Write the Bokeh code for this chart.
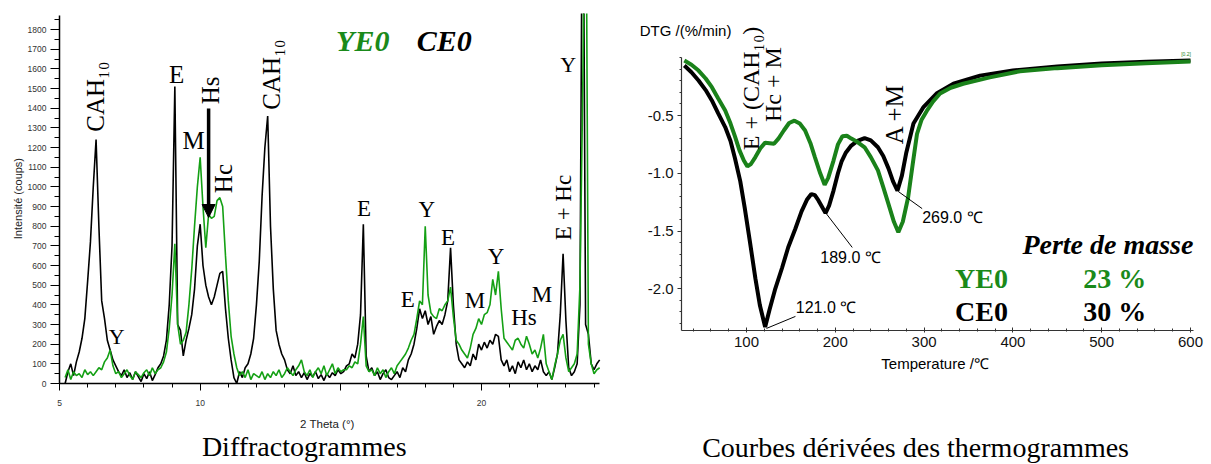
import math
from bokeh.plotting import figure
from bokeh.layouts import row
from bokeh.models import Range1d, FixedTicker, Label, Arrow, NormalHead, PrintfTickFormatter
from bokeh.embed import file_html
from bokeh.resources import INLINE

# ---------------- XRD data (2 Theta scan, step 0.1 deg from 5.2) ----------------
theta_start = 5.2
theta_step = 0.1
ce0_counts = [
    0, 60, 100, 40, 110, 160, 230, 330, 520, 720,          # 5.2 - 6.1
    1000, 1240, 800, 420, 330, 220, 170, 120, 90, 60,      # 6.2 - 7.1
    40, 70, 30, 55, 20, 60, 35, 10, 50, 25,                # 7.2 - 8.1
    60, 15, 45, 80, 100, 140, 220, 400, 700, 1510,         # 8.2 - 9.1
    300, 270, 140, 220, 280, 350, 480, 700, 810, 600,      # 9.2 - 10.1
    500, 440, 400, 440, 500, 560, 570, 380, 230, 120,      # 10.2 - 11.1
    30, 0, 60, 30, 80, 100, 150, 230, 400, 620,            # 11.2 - 12.1
    950, 1200, 1360, 800, 480, 270, 200, 150, 120, 70,     # 12.2 - 13.1
    50, 90, 40, 60, 30, 55, 20, 50, 35, 60,                # 13.2 - 14.1
    25, 45, 15, 50, 30, 55, 40, 70, 50, 60,                # 14.2 - 15.1
    90, 100, 150, 130, 200, 350, 810, 140, 60, 80,         # 15.2 - 16.1
    40, 60, 20, 50, 70, 30, 20, 40, 60, 30,                # 16.2 - 17.1
    80, 60, 120, 150, 200, 280, 380, 330, 370, 300,        # 17.2 - 18.1
    340, 250, 290, 320, 300, 350, 420, 690, 400, 200,      # 18.2 - 19.1
    120, 100, 80, 110, 90, 150, 120, 200, 170, 210,        # 19.2 - 20.1
    180, 220, 200, 250, 240, 120, 90, 120, 60, 90,         # 20.2 - 21.1
    50, 110, 80, 120, 70, 100, 60, 90, 70, 120,            # 21.2 - 22.1
    60, 40, 60, 20, 80, 150, 350, 660, 320, 80,            # 22.2 - 23.1
    40, 60, 100, 400, 3000, 300, 250, 100, 70, 100,        # 23.2 - 24.1
    120,                                                   # 24.2
]
ye0_counts = [
    30, 70, 20, 60, 40, 50, 30, 70, 45, 60,                # 5.2 - 6.1
    40, 60, 80, 70, 110, 130, 170, 90, 50, 60,             # 6.2 - 7.1
    30, 50, 70, 40, 20, 60, 45, 30, 55, 70,                # 7.2 - 8.1
    40, 80, 50, 70, 80, 110, 160, 280, 450, 710,           # 8.2 - 9.1
    300, 200, 220, 260, 400, 580, 800, 1000, 1150, 900,    # 9.2 - 10.1
    690, 860, 840, 850, 930, 945, 900, 650, 420, 240,      # 10.2 - 11.1
    150, 80, 40, 60, 30, 70, 20, 50, 40, 30,               # 11.2 - 12.1
    60, 20, 50, 30, 60, 40, 70, 30, 50, 80,                # 12.2 - 13.1
    60, 40, 70, 90, 120, 60, 40, 70, 30, 60,               # 13.2 - 14.1
    80, 50, 90, 40, 70, 100, 50, 80, 60, 70,               # 14.2 - 15.1
    70, 90, 80, 110, 100, 200, 340, 90, 60, 70,            # 15.2 - 16.1
    40, 80, 50, 70, 30, 60, 80, 50, 90, 110,               # 16.2 - 17.1
    130, 150, 180, 220, 250, 330, 420, 400, 800, 450,      # 17.2 - 18.1
    360, 340, 330, 380, 370, 400, 420, 490, 340, 220,      # 18.2 - 19.1
    200, 170, 150, 130, 180, 250, 280, 330, 300, 350,      # 19.2 - 20.1
    360, 400, 530, 450, 570, 380, 230, 210, 190, 170,      # 20.2 - 21.1
    220, 230, 200, 180, 240, 200, 150, 170, 130, 180,      # 21.2 - 22.1
    250, 100, 60, 20, 90, 150, 220, 250, 130, 60,          # 22.2 - 23.1
    80, 100, 150, 500, 1500, 3000, 200, 100, 50, 70,       # 23.2 - 24.1
    80,                                                    # 24.2
]
assert len(ce0_counts) == len(ye0_counts) == 191
theta = [round(theta_start + theta_step * i, 2) for i in range(len(ce0_counts))]

xrd_y_ticks = list(range(0, 1900, 100))
xrd_y_minor = list(range(50, 1900, 100))
xrd_x_ticks = [5, 10, 15, 20]
xrd_x_minor = list(range(5, 25))

# ---------------- DTG data ----------------
dtg_T_ce0 = [30, 38, 46, 54, 61, 68, 76, 82, 87, 93, 98, 104, 110, 115, 121, 126, 132, 140,
             147, 155, 162, 168, 173, 177, 181, 185, 189, 193, 198, 203, 207, 212, 218, 225,
             233, 240, 248, 254, 260, 265, 270, 275, 280, 288, 299, 314, 333, 363, 400, 450,
             500, 550, 600]
dtg_ce0 = [-0.067, -0.125, -0.197, -0.28, -0.37, -0.48, -0.60, -0.72, -0.87, -1.07, -1.30,
           -1.60, -1.91, -2.14, -2.33, -2.18, -2.01, -1.82, -1.64, -1.48, -1.33, -1.23, -1.18,
           -1.19, -1.235, -1.29, -1.345, -1.28, -1.15, -1.00, -0.90, -0.82, -0.76, -0.72,
           -0.695, -0.715, -0.775, -0.85, -0.96, -1.07, -1.15, -1.02, -0.82, -0.57, -0.43,
           -0.31, -0.225, -0.155, -0.11, -0.075, -0.05, -0.035, -0.024]
dtg_T_ye0 = [30, 38, 46, 54, 61, 68, 76, 82, 87, 92, 97, 101, 105, 110, 116, 121, 126, 131,
             136, 142, 148, 154, 160, 166, 172, 177, 183, 188, 192, 198, 203, 208, 213, 218,
             225, 233, 240, 248, 254, 260, 266, 271, 276, 282, 287, 292, 297, 303, 310, 318,
             330, 344, 374, 408, 450, 500, 550, 600]
dtg_ye0 = [-0.024, -0.06, -0.111, -0.18, -0.255, -0.35, -0.457, -0.57, -0.68, -0.80, -0.89,
           -0.94, -0.92, -0.86, -0.78, -0.735, -0.74, -0.745, -0.70, -0.63, -0.565, -0.545,
           -0.57, -0.63, -0.74, -0.86, -1.00, -1.10, -1.04, -0.89, -0.75, -0.68, -0.675, -0.70,
           -0.73, -0.775, -0.86, -0.975, -1.12, -1.27, -1.42, -1.51, -1.42, -1.21, -0.93,
           -0.66, -0.54, -0.46, -0.38, -0.31, -0.26, -0.225, -0.17, -0.117, -0.09, -0.065,
           -0.048, -0.033]
assert len(dtg_T_ce0) == len(dtg_ce0) and len(dtg_T_ye0) == len(dtg_ye0)

dtg_x_ticks = [100, 200, 300, 400, 500, 600]
dtg_x_minor = list(range(40, 601, 20))
dtg_y_ticks = [-2.0, -1.5, -1.0, -0.5]
dtg_y_minor = [-2.3, -2.2, -2.1, -1.9, -1.8, -1.7, -1.6, -1.4, -1.3, -1.2, -1.1,
               -0.9, -0.8, -0.7, -0.6, -0.4, -0.3, -0.2, -0.1, 0.0]

peak_labels = ["121.0 ℃", "189.0 ℃", "269.0 ℃"]
loss_samples = ["YE0", "CE0"]
loss_values = ["23 %", "30 %"]

GREEN_XRD = "#14a014"
GREEN_DTG = "#1a821a"
GREEN_TXT = "#1a8a1a"
SERIF = "Liberation Serif"
SANS = "Liberation Sans"

# page layout (pixels): canvases start at page (0, 0); frames from y=13 to y=464
TOP_BORDER = 13
PAGE_H = 464
SPLIT_X = 628
PAGE_W = 1211


def span(page_lo, page_hi, pa, va, pb, vb):
    """data values at two page pixels, from two (pixel, value) anchors"""
    k = (vb - va) / (pb - pa)
    return va + (page_lo - pa) * k, va + (page_hi - pa) * k


def lab(p, x, y, text, size, font=SERIF, style="normal", color="black", angle=0.0,
        align="center", baseline="middle"):
    p.add_layout(Label(x=x, y=y, text=text, text_font=font, text_font_size=f"{size}px",
                       text_font_style=style, text_color=color, angle=angle,
                       text_align=align, text_baseline=baseline))


def bare_fig(width, xr, yr):
    p = figure(width=width, height=PAGE_H, output_backend="svg",
               toolbar_location=None, x_range=Range1d(*xr),
               y_range=Range1d(yr[1], yr[0]), min_border=0)
    p.min_border_top = TOP_BORDER
    p.outline_line_color = None
    p.xgrid.visible = False
    p.ygrid.visible = False
    return p


# ---------------- Left: diffractogrammes ----------------
x1r = span(0, SPLIT_X, 59, 5, 481, 20)
y1r = span(TOP_BORDER, PAGE_H, 383, 0, 29, 1800)
p1 = bare_fig(SPLIT_X, x1r, y1r)
p1.line(theta, ce0_counts, color="black", line_width=1.6)
p1.line(theta, ye0_counts, color=GREEN_XRD, line_width=1.6)

for ax in (p1.xaxis[0], p1.yaxis[0]):
    ax.axis_line_color = "black"
    ax.axis_line_width = 1.5
    ax.major_tick_line_color = "black"
    ax.minor_tick_line_color = "black"
    ax.major_tick_in = 0
    ax.minor_tick_in = 0
    ax.major_label_text_font = SANS
    ax.major_label_text_font_size = "8.5px"
    ax.major_label_text_color = "#333333"
p1.yaxis.fixed_location = 5
p1.yaxis.bounds = (0, 1871)
p1.yaxis.ticker = FixedTicker(ticks=xrd_y_ticks, minor_ticks=xrd_y_minor)
p1.yaxis.major_tick_out = 9
p1.yaxis.minor_tick_out = 5
p1.yaxis.major_label_standoff = 4
p1.xaxis.fixed_location = 0
p1.xaxis.bounds = (5, 24.18)
p1.xaxis.ticker = FixedTicker(ticks=xrd_x_ticks, minor_ticks=xrd_x_minor)
p1.xaxis.major_label_overrides = {15: ""}
p1.xaxis.major_tick_out = 7
p1.xaxis.minor_tick_out = 4
p1.xaxis.major_label_standoff = 9

lab(p1, 3.52, 940, "Intensité (coups)", 11, font=SANS, color="#222222", angle=math.pi / 2)
lab(p1, 14.52, -208, "2 Theta (°)", 11.5, font=SANS, color="#222222")
lab(p1, 13.70, -401, "Diffractogrammes", 28, baseline="bottom")

# phase annotations
R = math.pi / 2
lab(p1, 6.28, 1459, "CAH₁₀", 25, angle=R)
lab(p1, 7.03, 239, "Y", 22)
lab(p1, 9.16, 1571, "E", 25)
lab(p1, 9.77, 1235, "M", 25)
lab(p1, 10.37, 1490, "Hs", 25, angle=R)
lab(p1, 10.84, 1042, "Hc", 25, angle=R)
lab(p1, 12.54, 1571, "CAH₁₀", 25, angle=R)
lab(p1, 15.78, 1744, "YE0", 30, style="bold italic", color=GREEN_TXT)
lab(p1, 18.68, 1744, "CE0", 30, style="bold italic")
lab(p1, 23.08, 1622, "Y", 22)
lab(p1, 22.90, 895, "E + Hc", 23, angle=R)
lab(p1, 15.82, 890, "E", 23)
lab(p1, 18.06, 885, "Y", 23)
lab(p1, 18.81, 742, "E", 23)
lab(p1, 17.38, 427, "E", 23)
lab(p1, 19.77, 422, "M", 23)
lab(p1, 20.52, 646, "Y", 23)
lab(p1, 21.51, 336, "Hs", 23)
lab(p1, 22.15, 452, "M", 23)
p1.add_layout(Arrow(end=NormalHead(size=13, fill_color="black", line_color="black"),
                    x_start=10.30, y_start=1398, x_end=10.30, y_end=844,
                    line_width=3.5, line_color="black"))

# ---------------- Right: DTG ----------------
x2r = span(SPLIT_X, PAGE_W, 746, 100, 1190, 600)
y2r = span(TOP_BORDER, PAGE_H, 115, -0.5, 288.3, -2.0)
p2 = bare_fig(PAGE_W - SPLIT_X, x2r, y2r)
p2.line(dtg_T_ce0, dtg_ce0, color="black", line_width=4)
p2.line(dtg_T_ye0, dtg_ye0, color=GREEN_DTG, line_width=4)

for ax in (p2.xaxis[0], p2.yaxis[0]):
    ax.axis_line_color = "#333333"
    ax.axis_line_width = 1.2
    ax.major_tick_line_color = "#333333"
    ax.minor_tick_line_color = "#333333"
    ax.major_label_text_font = SANS
    ax.major_label_text_font_size = "15px"
    ax.major_label_text_color = "#111111"
p2.yaxis.fixed_location = 27
p2.yaxis.bounds = (-2.36, 0)
p2.yaxis.ticker = FixedTicker(ticks=dtg_y_ticks, minor_ticks=dtg_y_minor)
p2.yaxis.formatter = PrintfTickFormatter(format="%.1f")
p2.yaxis.major_tick_out = 4
p2.yaxis.major_tick_in = 0
p2.yaxis.minor_tick_out = 2
p2.yaxis.minor_tick_in = 0
p2.yaxis.major_label_standoff = 4
p2.xaxis.fixed_location = -2.36
p2.xaxis.bounds = (27, 603)
p2.xaxis.ticker = FixedTicker(ticks=dtg_x_ticks, minor_ticks=dtg_x_minor)
p2.xaxis.major_tick_out = 2
p2.xaxis.major_tick_in = 3
p2.xaxis.minor_tick_out = 1
p2.xaxis.minor_tick_in = 2
p2.xaxis.major_label_standoff = 5

lab(p2, 83, 0.235, "DTG /(%/min)", 15, font=SANS, align="right")
lab(p2, 312.4, -2.645, "Temperature /℃", 15, font=SANS)
lab(p2, 290.4, -3.504, "Courbes dérivées des thermogrammes", 28, baseline="bottom")
lab(p2, 595, 0.03, "[0.2]", 5, font=SANS, color=GREEN_DTG)

lab(p2, 105.6, -0.266, "E + (CAH₁₀)", 24, angle=R)
lab(p2, 130.3, -0.232, "Hc + M", 24, angle=R)
lab(p2, 266.3, -0.487, "A +M", 25, angle=R)

# peak temperature call-outs
p2.segment(x0=[122.5, 188.8, 270.8], y0=[-2.343, -1.339, -1.157],
           x1=[155.1, 219.1, 297.8], y1=[-2.239, -1.642, -1.306],
           line_color="black", line_width=1)
lab(p2, 155.5, -2.165, peak_labels[0], 16, font=SANS, align="left")
lab(p2, 183.1, -1.733, peak_labels[1], 16, font=SANS, align="left")
lab(p2, 297.8, -1.387, peak_labels[2], 16, font=SANS, align="left")

# mass loss table
lab(p2, 507, -1.618, "Perte de masse", 28, style="bold italic")
lab(p2, 364.6, -1.907, loss_samples[0], 28, style="bold", color=GREEN_TXT)
lab(p2, 514.6, -1.907, loss_values[0], 28, style="bold", color=GREEN_TXT)
lab(p2, 364.6, -2.195, loss_samples[1], 28, style="bold")
lab(p2, 514.6, -2.195, loss_values[1], 28, style="bold")

layout = row(p1, p2)
open("out.html", "w").write(file_html(layout, INLINE))
